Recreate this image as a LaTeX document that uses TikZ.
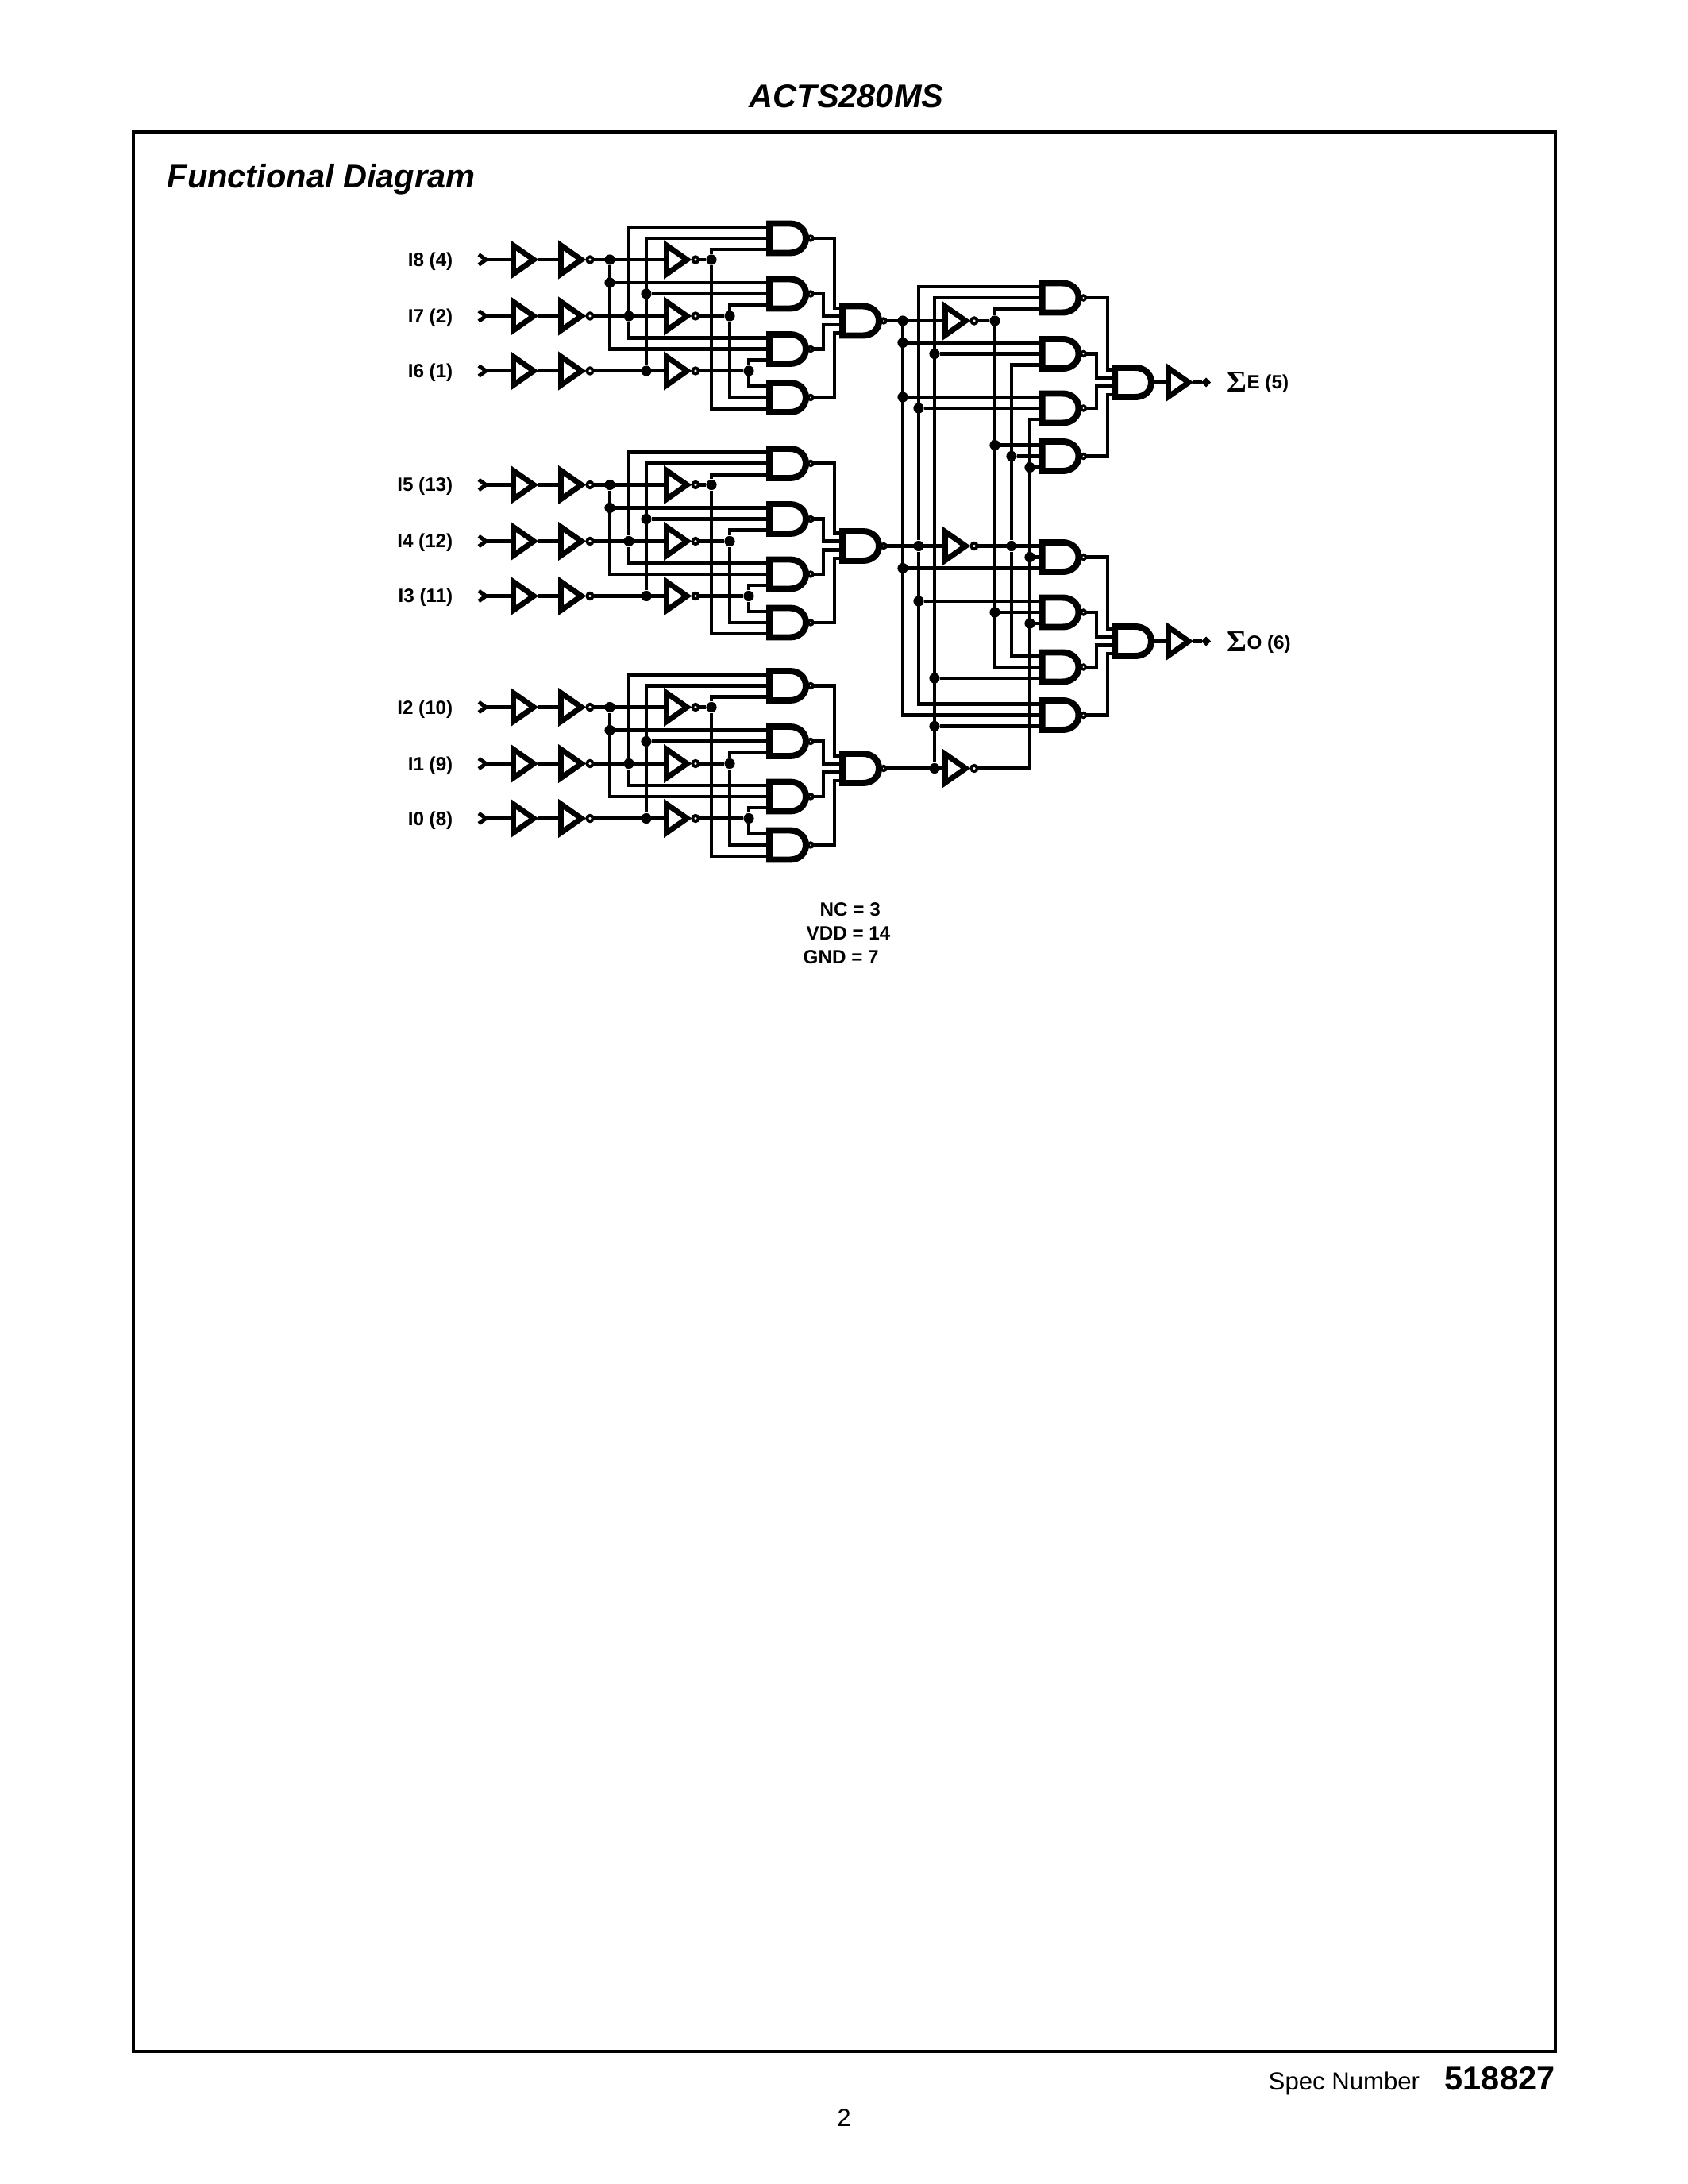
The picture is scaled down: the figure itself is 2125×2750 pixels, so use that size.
\documentclass[tikz,border=0pt]{standalone}
\usepackage{fontspec}
\setmainfont{Liberation Sans}
\newfontfamily\sigfont{Liberation Serif}
\usepackage{tikz}
\usetikzlibrary{positioning, arrows, arrows.meta}

\tikzset{
  wire/.style={line width=1.4pt},
  gate/.style={line width=2.3pt},
  tri/.style={line width=2pt},
  jdot/.style={circle,fill=black,inner sep=0pt,minimum size=3.8pt},
  pinlab/.style={inner sep=0pt,font=\fontsize{7}{8}\selectfont\bfseries},
  bufg/.pic={
    \draw[tri] (3.5,-18)--(29.2,0)--(3.5,18)--cycle;
    \coordinate (-in) at (1,0);
    \coordinate (-out) at (34,0);
  },
  invg/.pic={
    \draw[tri] (3.5,-18)--(29.2,0)--(3.5,18)--cycle;
    \draw[line width=1.1pt,fill=white] (40,0) circle (3.7);
    \coordinate (-in) at (1,0);
    \coordinate (-out) at (44,0);
  },
  andg/.pic={
    \draw[gate] (4,-18.5)--(30,-18.5) .. controls (41,-18.5) and (50,-11) .. (50,0)
      .. controls (50,11) and (41,18.5) .. (30,18.5) -- (4,18.5)--cycle;
    \coordinate (-a) at (2,-14);
    \coordinate (-b) at (2,0);
    \coordinate (-c) at (2,14);
    \coordinate (-p) at (2,-16);
    \coordinate (-q) at (2,-6);
    \coordinate (-r) at (2,5);
    \coordinate (-s) at (2,15.5);
    \coordinate (-out) at (53,0);
  },
  nandg/.pic={
    \pic (-body) at (0,0) {andg};
    \draw[line width=1pt,fill=white] (56,0) circle (2.9);
    \coordinate (-a) at (2,-14);
    \coordinate (-b) at (2,0);
    \coordinate (-c) at (2,14);
    \coordinate (-p) at (2,-16);
    \coordinate (-q) at (2,-6);
    \coordinate (-r) at (2,5);
    \coordinate (-s) at (2,15.5);
    \coordinate (-out) at (59,0);
  },
  pinin/.pic={
    \draw[wire] (-9,-6.5)--(0,0)--(-9,6.5);
    \coordinate (-out) at (0,0);
  },
  pinout/.pic={
    \fill (0,0)--(6,-6)--(12,0)--(6,6)--cycle;
    \coordinate (-in) at (1,0);
  }
}

\begin{document}
\begin{tikzpicture}[x=0.004in,y=-0.004in]
\path[use as bounding box,fill=white] (0,0) rectangle (2125,2750);

% page furniture
\node[inner sep=0pt,anchor=base west,font=\fontsize{12}{14}\selectfont\bfseries\itshape] (title) at (943,136) {ACTS280MS};
\draw[line width=1.4pt] (168,166.5) rectangle (1959,2583);
\node[inner sep=0pt,anchor=base west,font=\fontsize{12}{14}\selectfont\bfseries\itshape] (fdlab) at (210,237) {Functional Diagram};
\node[inner sep=0pt,anchor=base west,font=\fontsize{9}{11}\selectfont] (speclab) at (1597,2631) {Spec Number};
\node[inner sep=0pt,anchor=base west,font=\fontsize{12}{14}\selectfont\bfseries] (specnum) at (1819,2631) {518827};
\node[inner sep=0pt,anchor=base,font=\fontsize{9}{11}\selectfont] (pagenum) at (1063,2677) {2};

% the three input blocks
\foreach \blk/\dy/\lba/\lbb/\lbc in {a/0/{I8 (4)}/{I7 (2)}/{I6 (1)},b/283.5/{I5 (13)}/{I4 (12)}/{I3 (11)},c/563.5/{I2 (10)}/{I1 (9)}/{I0 (8)}}{
\begin{scope}[shift={(0,\dy)}]
  \foreach \row/\ry/\lbl in {1/327/\lba,2/398/\lbb,3/467/\lbc}{
    \node[pinlab,anchor=base east] (\blk lab\row) at (571,\ry+8.5) {\lbl};
    \pic (\blk pin\row) at (612,\ry) {pinin};
    \pic (\blk bufa\row) at (643,\ry) {bufg};
    \pic (\blk bufb\row) at (703,\ry) {invg};
    \pic (\blk inv\row) at (836,\ry) {invg};
    \draw[wire] (\blk pin\row-out) -- (\blk bufa\row-in);
    \draw[wire] (\blk bufa\row-out) -- (\blk bufb\row-in);
    \draw[wire] (\blk bufb\row-out) -- (\blk inv\row-in);
  }
  \pic (\blk ga) at (965,300) {nandg};
  \pic (\blk gb) at (965,370) {nandg};
  \pic (\blk gc) at (965,439.5) {nandg};
  \pic (\blk gd) at (965,500.5) {nandg};
  \pic (\blk nd) at (1057,404) {nandg};

  % bus dots on the true and inverted rows
  \node[jdot] (\blk ta) at (768,0 |- \blk inv1-in) {};
  \node[jdot] (\blk tb) at (792,0 |- \blk inv2-in) {};
  \node[jdot] (\blk tc) at (814,0 |- \blk inv3-in) {};
  \node[jdot] (\blk na) at (896,0 |- \blk inv1-in) {};
  \node[jdot] (\blk nb) at (919,0 |- \blk inv2-in) {};
  \node[jdot] (\blk nc) at (943,0 |- \blk inv3-in) {};
  \node[jdot] (\blk xa) at (768,0 |- \blk gb-a) {};
  \node[jdot] (\blk xc) at (814,0 |- \blk gb-b) {};
  \draw[wire] (\blk inv1-out) -- (\blk na);
  \draw[wire] (\blk inv2-out) -- (\blk nb);
  \draw[wire] (\blk inv3-out) -- (\blk nc);
  \draw[wire] (\blk ta) |- (\blk gc-b);
  \draw[wire] (\blk xa) -- (\blk gb-a);
  \draw[wire] (\blk tb) |- (\blk ga-a);
  \draw[wire] (\blk tb) |- (\blk gc-a);
  \draw[wire] (\blk tc) |- (\blk ga-b);
  \draw[wire] (\blk xc) -- (\blk gb-b);
  \draw[wire] (\blk na) |- (\blk ga-c);
  \draw[wire] (\blk na) |- (\blk gd-c);
  \draw[wire] (\blk nb) |- (\blk gb-c);
  \draw[wire] (\blk nb) |- (\blk gd-b);
  \draw[wire] (\blk nc) |- (\blk gc-c);
  \draw[wire] (\blk nc) |- (\blk gd-a);

  % into the block gate
  \draw[wire] (\blk ga-out) -| (1051,0 |- \blk nd-p) -- (\blk nd-p);
  \draw[wire] (\blk gb-out) -| (1037,0 |- \blk nd-q) -- (\blk nd-q);
  \draw[wire] (\blk gc-out) -| (1037,0 |- \blk nd-r) -- (\blk nd-r);
  \draw[wire] (\blk gd-out) -| (1051,0 |- \blk nd-s) -- (\blk nd-s);
\end{scope}
}

% second level
\pic (inva) at (1187,404) {invg};
\pic (invb) at (1187,687.5) {invg};
\pic (invc) at (1187,967.5) {invg};
\draw[wire] (and-out) -- (inva-in);
\draw[wire] (bnd-out) -- (invb-in);
\draw[wire] (cnd-out) -- (invc-in);

\pic (gu1) at (1308.5,375) {nandg};
\pic (gu2) at (1308.5,445.5) {nandg};
\pic (gu3) at (1308.5,514) {nandg};
\pic (gu4) at (1308.5,574.5) {nandg};
\pic (gl1) at (1308.5,701.5) {nandg};
\pic (gl2) at (1308.5,771) {nandg};
\pic (gl3) at (1308.5,840) {nandg};
\pic (gl4) at (1308.5,900.5) {nandg};

\node[jdot] (va) at (1137,0 |- inva-in) {};
\node[jdot] (vb) at (1157,0 |- invb-in) {};
\node[jdot] (vc) at (1177,0 |- invc-in) {};
\node[jdot] (wa) at (1253,0 |- inva-in) {};
\node[jdot] (wb) at (1274,0 |- invb-in) {};
\draw[wire] (inva-out) -- (wa);
\draw[wire] (invb-out) -- (gl1-a);
\draw[wire] (invc-out) -| (1297,0 |- gu3-c) -- (gu3-c);

\draw[wire] (va) |- (gl4-b);
\draw[wire] (vb) |- (gu1-a);
\draw[wire] (vb) |- (gl4-a);
\draw[wire] (vc) |- (gu1-b);
\draw[wire] (wa) |- (gu1-c);
\draw[wire] (wa) |- (gl3-b);
\draw[wire] (wb) |- (gu2-c);
\draw[wire] (wb) |- (gl3-a);

\foreach \nm/\xx/\gg in {ja/1137/gu2-a,jb/1137/gu3-a,jc/1137/gl1-c,jd/1157/gu3-b,je/1157/gl2-a,
  jf/1177/gu2-b,jg/1177/gl3-c,jh/1177/gl4-c,ji/1253/gu4-a,jj/1253/gl2-b,jk/1274/gu4-b,
  jl/1297/gu4-c,jm/1297/gl1-b,jn/1297/gl2-c}{
  \node[jdot] (\nm) at (\xx,0 |- \gg) {};
  \draw[wire] (\nm) -- (\gg);
}

% output gates
\pic (fe) at (1400,481.5) {andg};
\pic (fo) at (1400,807.5) {andg};
\draw[wire] (gu1-out) -| (1395,0 |- fe-p) -- (fe-p);
\draw[wire] (gu2-out) -| (1381,0 |- fe-q) -- (fe-q);
\draw[wire] (gu3-out) -| (1381,0 |- fe-r) -- (fe-r);
\draw[wire] (gu4-out) -| (1395,0 |- fe-s) -- (fe-s);
\draw[wire] (gl1-out) -| (1395,0 |- fo-p) -- (fo-p);
\draw[wire] (gl2-out) -| (1381,0 |- fo-q) -- (fo-q);
\draw[wire] (gl3-out) -| (1381,0 |- fo-r) -- (fo-r);
\draw[wire] (gl4-out) -| (1395,0 |- fo-s) -- (fo-s);

\pic (bufe) at (1468,481.5) {bufg};
\pic (bufo) at (1468,807.5) {bufg};
\pic (pine) at (1513,481.5) {pinout};
\pic (pino) at (1513,807.5) {pinout};
\draw[wire] (fe-out) -- (bufe-in);
\draw[wire] (fo-out) -- (bufo-in);
\draw[wire] (bufe-out) -- (pine-in);
\draw[wire] (bufo-out) -- (pino-in);

\node[pinlab,anchor=base west] (sume) at (1545,490) {{\sigfont\fontsize{11}{11}\selectfont\raisebox{-1pt}{Σ}}E (5)};
\node[pinlab,anchor=base west] (sumo) at (1545,817) {{\sigfont\fontsize{11}{11}\selectfont\raisebox{-1pt}{Σ}}O (6)};

\node[pinlab,anchor=base west] (nclab) at (1032,1153) {NC = 3};
\node[pinlab,anchor=base west] (vddlab) at (1015,1183) {VDD = 14};
\node[pinlab,anchor=base west] (gndlab) at (1011,1213) {GND = 7};
\end{tikzpicture}
\end{document}
